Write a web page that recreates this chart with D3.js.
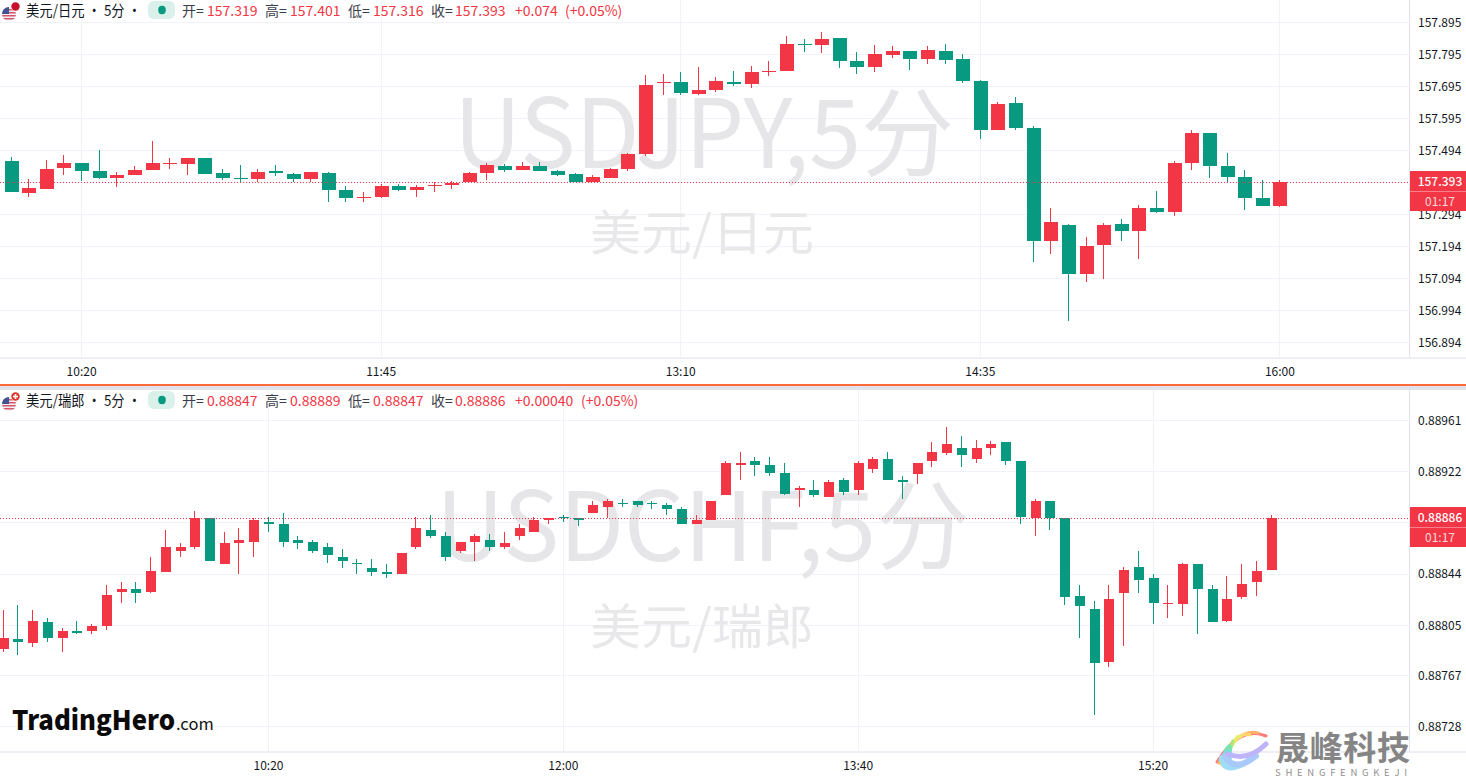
<!DOCTYPE html>
<html><head><meta charset="utf-8">
<script src="https://cdnjs.cloudflare.com/ajax/libs/d3/7.8.5/d3.min.js"></script>
<style>
html,body{margin:0;padding:0;background:#fff;overflow:hidden}
svg{display:block}
text{font-family:"Noto Sans CJK SC","Noto Sans",sans-serif}
</style></head><body>
<script>
// open, high, low, close
const jpyCandles = [
[157.461,157.474,157.362,157.362],[157.361,157.404,157.349,157.376],[157.373,157.464,157.373,157.436],[157.439,157.479,157.417,157.454],
[157.454,157.454,157.398,157.429],[157.429,157.495,157.404,157.408],[157.408,157.425,157.379,157.417],[157.417,157.445,157.417,157.433],
[157.433,157.523,157.433,157.454],[157.451,157.470,157.436,157.454],[157.451,157.470,157.417,157.470],[157.470,157.470,157.420,157.420],
[157.423,157.436,157.401,157.408],[157.408,157.448,157.395,157.404],[157.404,157.436,157.394,157.426],[157.429,157.448,157.414,157.423],
[157.420,157.423,157.395,157.404],[157.404,157.426,157.394,157.426],[157.423,157.426,157.333,157.370],[157.370,157.383,157.333,157.345],
[157.345,157.364,157.333,157.348],[157.348,157.388,157.345,157.383],[157.383,157.389,157.367,157.370],[157.370,157.385,157.348,157.379],
[157.383,157.395,157.364,157.386],[157.386,157.398,157.373,157.392],[157.395,157.426,157.394,157.423],[157.423,157.454,157.401,157.448],
[157.445,157.451,157.426,157.433],[157.433,157.458,157.433,157.445],[157.445,157.458,157.429,157.429],[157.429,157.433,157.414,157.417],
[157.420,157.423,157.395,157.395],[157.395,157.417,157.395,157.411],[157.408,157.439,157.408,157.436],[157.436,157.486,157.429,157.483],
[157.483,157.729,157.476,157.698],[157.704,157.733,157.667,157.708],[157.708,157.739,157.667,157.673],[157.670,157.754,157.667,157.683],
[157.682,157.723,157.676,157.711],[157.708,157.742,157.695,157.701],[157.701,157.758,157.689,157.739],[157.739,157.773,157.726,157.742],
[157.742,157.851,157.742,157.826],[157.826,157.842,157.801,157.823],[157.823,157.864,157.798,157.842],[157.845,157.845,157.751,157.773],
[157.773,157.801,157.733,157.754],[157.754,157.823,157.739,157.795],[157.792,157.820,157.783,157.804],[157.804,157.804,157.745,157.779],
[157.779,157.820,157.764,157.808],[157.804,157.826,157.764,157.776],[157.779,157.795,157.704,157.711],[157.711,157.714,157.529,157.558],
[157.558,157.645,157.558,157.639],[157.642,157.661,157.558,157.564],[157.564,157.570,157.145,157.211],[157.211,157.314,157.170,157.270],
[157.261,157.264,156.961,157.107],[157.107,157.223,157.082,157.195],[157.198,157.267,157.092,157.261],[157.264,157.279,157.211,157.242],
[157.242,157.323,157.154,157.314],[157.314,157.367,157.298,157.301],[157.301,157.461,157.289,157.454],[157.454,157.558,157.432,157.548],
[157.548,157.548,157.407,157.445],[157.445,157.486,157.393,157.411],[157.411,157.432,157.308,157.345],[157.345,157.401,157.320,157.320],
[157.319,157.401,157.316,157.393]];
const chfCandles = [
[0.88787,0.88816,0.88784,0.88795],[0.88794,0.88820,0.88782,0.88792],[0.88791,0.88816,0.88788,0.88808],[0.88807,0.88810,0.88792,0.88795],
[0.88795,0.88803,0.88784,0.88800],[0.88800,0.88808,0.88798,0.88799],[0.88800,0.88806,0.88798,0.88804],[0.88804,0.88835,0.88801,0.88828],
[0.88830,0.88838,0.88822,0.88832],[0.88832,0.88838,0.88822,0.88829],[0.88830,0.88857,0.88829,0.88846],[0.88845,0.88877,0.88845,0.88864],
[0.88861,0.88867,0.88857,0.88864],[0.88864,0.88892,0.88863,0.88886],[0.88886,0.88886,0.88854,0.88854],[0.88851,0.88876,0.88851,0.88867],
[0.88867,0.88879,0.88844,0.88870],[0.88868,0.88886,0.88857,0.88885],[0.88883,0.88887,0.88876,0.88882],[0.88882,0.88890,0.88864,0.88868],
[0.88870,0.88873,0.88863,0.88867],[0.88868,0.88870,0.88860,0.88861],[0.88864,0.88867,0.88852,0.88858],[0.88857,0.88863,0.88848,0.88854],
[0.88852,0.88855,0.88844,0.88851],[0.88848,0.88855,0.88842,0.88845],[0.88845,0.88851,0.88841,0.88844],[0.88844,0.88860,0.88844,0.88860],
[0.88864,0.88887,0.88863,0.88879],[0.88877,0.88889,0.88871,0.88873],[0.88873,0.88876,0.88854,0.88857],[0.88861,0.88868,0.88860,0.88868],
[0.88868,0.88874,0.88854,0.88873],[0.88870,0.88874,0.88861,0.88864],[0.88864,0.88876,0.88863,0.88867],[0.88873,0.88882,0.88870,0.88879],
[0.88876,0.88887,0.88876,0.88885],[0.88885,0.88886,0.88882,0.88886],[0.88887,0.88889,0.88883,0.88886],[0.88886,0.88886,0.88880,0.88885],
[0.88890,0.88899,0.88890,0.88896],[0.88895,0.88901,0.88886,0.88899],[0.88898,0.88901,0.88895,0.88897],[0.88899,0.88899,0.88895,0.88896],
[0.88898,0.88899,0.88893,0.88897],[0.88896,0.88898,0.88889,0.88893],[0.88893,0.88895,0.88882,0.88882],[0.88882,0.88889,0.88882,0.88885],
[0.88885,0.88899,0.88885,0.88899],[0.88904,0.88930,0.88904,0.88928],[0.88927,0.88937,0.88915,0.88928],[0.88930,0.88933,0.88918,0.88927],
[0.88927,0.88933,0.88918,0.88921],[0.88921,0.88928,0.88904,0.88905],[0.88908,0.88911,0.88895,0.88909],[0.88908,0.88915,0.88902,0.88904],
[0.88902,0.88915,0.88902,0.88914],[0.88915,0.88917,0.88904,0.88906],[0.88908,0.88930,0.88904,0.88928],[0.88924,0.88933,0.88921,0.88931],
[0.88931,0.88937,0.88915,0.88915],[0.88915,0.88918,0.88901,0.88914],[0.88920,0.88928,0.88912,0.88928],[0.88930,0.88944,0.88925,0.88937],
[0.88936,0.88956,0.88934,0.88943],[0.88940,0.88949,0.88925,0.88934],[0.88931,0.88946,0.88928,0.88940],[0.88940,0.88945,0.88934,0.88943],
[0.88944,0.88944,0.88927,0.88930],[0.88930,0.88930,0.88882,0.88887],[0.88886,0.88901,0.88873,0.88899],[0.88899,0.88899,0.88877,0.88886],
[0.88886,0.88886,0.88820,0.88826],[0.88827,0.88835,0.88795,0.88819],[0.88817,0.88823,0.88736,0.88776],[0.88777,0.88835,0.88773,0.88825],
[0.88829,0.88849,0.88789,0.88847],[0.88849,0.88861,0.88829,0.88839],[0.88841,0.88844,0.88806,0.88822],[0.88821,0.88835,0.88810,0.88822],
[0.88821,0.88852,0.88812,0.88851],[0.88851,0.88851,0.88798,0.88832],[0.88832,0.88835,0.88807,0.88807],[0.88808,0.88842,0.88807,0.88825],
[0.88826,0.88851,0.88825,0.88836],[0.88838,0.88854,0.88827,0.88846],[0.88847,0.88889,0.88847,0.88886]];

const jpyTicks = [157.895,157.795,157.695,157.595,157.494,157.394,157.294,157.194,157.094,156.994,156.894];
// the 157.394 and 0.88883 labels sit under the price badge in the reference, so they are left blank
const jpyTickLabels = ["157.895","157.795","157.695","157.595","157.494","","157.294","157.194","157.094","156.994","156.894"];
const chfTicks = [0.88961,0.88922,0.88883,0.88844,0.88805,0.88767,0.88728];
const chfTickLabels = ["0.88961","0.88922","","0.88844","0.88805","0.88767","0.88728"];
const jpyTimeIdx = [4,21,38,55,72];
const jpyTimes = ["10:20","11:45","13:10","14:35","16:00"];
const chfTimeIdx = [18,38,58,78];
const chfTimes = ["10:20","12:00","13:40","15:20"];

const UP="#f23645", DOWN="#089981", GRID="#f0f3fa", AXIS="#e0e3eb", INK="#131722";
const W=1466,H=778,AX=1409;
const LAT="Roboto,'Noto Sans CJK SC',sans-serif";
const svg=d3.select("body").append("svg").attr("width",W).attr("height",H).attr("viewBox",`0 0 ${W} ${H}`);
svg.append("rect").attr("width",W).attr("height",H).attr("fill","#fff");

function pane(cfg){
  const g=svg.append("g");
  const x=d3.scaleLinear().domain([0,cfg.data.length-1]).range(cfg.xr);
  const y=d3.scaleLinear().domain(cfg.yd).range(cfg.yr);
  const grid=g.append("g").attr("shape-rendering","crispEdges");
  grid.selectAll(".h").data(cfg.ticks).join("line").attr("x1",0).attr("x2",AX)
    .attr("y1",d=>Math.round(y(d))+.5).attr("y2",d=>Math.round(y(d))+.5).attr("stroke",GRID);
  grid.selectAll(".v").data(cfg.timeIdx).join("line").attr("y1",cfg.top).attr("y2",cfg.bottom)
    .attr("x1",d=>Math.round(x(d))+.5).attr("x2",d=>Math.round(x(d))+.5).attr("stroke",GRID);
  g.append("text").attr("x",cfg.wmX).attr("y",cfg.wmY).attr("font-size",cfg.wmSize).attr("text-anchor","middle")
    .attr("font-family","'Noto Sans','Noto Sans CJK SC',sans-serif").attr("textLength",cfg.wmLen).attr("lengthAdjust","spacingAndGlyphs")
    .attr("fill","#e6e6e9").text(cfg.wm);
  g.append("text").attr("x",cfg.wm2X).attr("y",cfg.wm2Y).attr("font-size",48).attr("text-anchor","middle")
    .attr("textLength",224).attr("lengthAdjust","spacingAndGlyphs")
    .attr("fill","#e8e8ea").text(cfg.wm2);
  const last=cfg.data[cfg.data.length-1];
  const c=g.append("g").attr("shape-rendering","crispEdges");
  const col=d=>d[3]>=d[0]?UP:DOWN;
  const cx=(d,i)=>Math.round(x(i))+.5;
  c.selectAll("line").data(cfg.data).join("line")
    .attr("x1",cx).attr("x2",cx).attr("y1",d=>Math.round(y(d[1]))).attr("y2",d=>Math.round(y(d[2])))
    .attr("stroke",col);
  c.selectAll("rect").data(cfg.data).join("rect")
    .attr("x",(d,i)=>Math.round(x(i))+.5-cfg.bw/2).attr("width",cfg.bw)
    .attr("y",d=>Math.round(y(Math.max(d[0],d[3]))))
    .attr("height",d=>Math.max(1,Math.round(y(Math.min(d[0],d[3])))-Math.round(y(Math.max(d[0],d[3])))))
    .attr("fill",col);
  g.append("line").attr("x1",0).attr("x2",AX).attr("y1",Math.round(y(last[3]))+.5).attr("y2",Math.round(y(last[3]))+.5)
    .attr("stroke",UP).attr("stroke-dasharray","1 2").attr("shape-rendering","crispEdges");
  const yAx=d3.axisRight(y).tickValues(cfg.ticks).tickSize(0).tickPadding(9)
    .tickFormat((d,i)=>cfg.tickLabels[i]);
  const ya=g.append("g").attr("transform",`translate(${AX},0)`).call(yAx);
  ya.select(".domain").remove();
  ya.selectAll("text").attr("fill",INK).attr("font-size",12).attr("font-family","Roboto,sans-serif").attr("dy","0.36em");
  const xAx=d3.axisBottom(x).tickValues(cfg.timeIdx).tickSize(0).tickPadding(0)
    .tickFormat((d,i)=>cfg.times[i]);
  const xa=g.append("g").attr("transform",`translate(0,${cfg.axisY})`).call(xAx);
  xa.select(".domain").remove();
  xa.selectAll("text").attr("fill",INK).attr("font-size",12).attr("font-family","Roboto,sans-serif").attr("y",0).attr("dy","0");
  g.append("line").attr("x1",AX+.5).attr("x2",AX+.5).attr("y1",cfg.top).attr("y2",cfg.bottom).attr("stroke",AXIS).attr("shape-rendering","crispEdges");
  g.append("rect").attr("x",0).attr("y",cfg.bottom-1).attr("width",W).attr("height",2).attr("fill","#eeeef4");
  const by=Math.round(y(last[3]))-11;
  g.append("rect").attr("x",AX+1).attr("y",by).attr("width",W-AX-1).attr("height",40).attr("fill",UP);
  g.append("rect").attr("x",AX+1).attr("y",by+20).attr("width",W-AX-1).attr("height",1).attr("fill","#f7808a");
  g.append("text").attr("x",AX+31).attr("y",by+15).attr("text-anchor","middle").attr("fill","#fff").attr("font-size",12)
    .attr("font-family","Roboto,sans-serif").attr("font-weight",500).text(cfg.priceLabel);
  g.append("text").attr("x",AX+31).attr("y",by+35).attr("text-anchor","middle").attr("fill","#fff").attr("fill-opacity",.82).attr("font-size",12)
    .attr("font-family","Roboto,sans-serif").text("01:17");
  const hy=cfg.top+16;
  g.append("text").attr("x",26).attr("y",hy).attr("fill",INK).attr("font-size",15).attr("font-family",LAT)
    .attr("textLength",115).attr("lengthAdjust","spacingAndGlyphs").attr("xml:space","preserve").text(cfg.name+" · 5分 ·");
  g.append("rect").attr("x",148).attr("y",cfg.top+1).attr("width",27).attr("height",18).attr("rx",6).attr("fill","#d9f0eb");
  g.append("ellipse").attr("cx",162).attr("cy",cfg.top+10).attr("rx",3.8).attr("ry",4.2).attr("fill",DOWN);
  cfg.legend.forEach(d=>{
    g.append("text").attr("x",d[0]).attr("y",hy).attr("font-size",14).attr("font-family",LAT)
      .attr("fill",d[2]?"#3a3e4a":UP).text(d[1]);
  });
  const fy=cfg.top+14;
  const clipId="f"+cfg.top;
  g.append("clipPath").attr("id",clipId).append("circle").attr("cx",9).attr("cy",fy).attr("r",7);
  const f=g.append("g").attr("clip-path",`url(#${clipId})`);
  f.append("rect").attr("x",2).attr("y",fy-7).attr("width",14).attr("height",14).attr("fill","#eef0f4");
  [-5,-2,1,4].forEach(o=>f.append("rect").attr("x",2).attr("y",fy+o).attr("width",14).attr("height",1.5).attr("fill","#d8556a"));
  f.append("rect").attr("x",2).attr("y",fy-7).attr("width",7).attr("height",7).attr("fill","#3f5490");
  g.append("circle").attr("cx",15.5).attr("cy",fy-7.5).attr("r",4.8).attr("fill","#fff");
  g.append("circle").attr("cx",15.5).attr("cy",fy-7.5).attr("r",4.2).attr("fill",cfg.flag2);
  if(cfg.cross){
    g.append("rect").attr("x",13).attr("y",fy-8.3).attr("width",5).attr("height",1.6).attr("fill","#fff");
    g.append("rect").attr("x",14.7).attr("y",fy-10).attr("width",1.6).attr("height",5).attr("fill","#fff");
  }
}

pane({data:jpyCandles,xr:[10.6,1279.4],yd:[157.895,156.894],yr:[22,342],bw:14,top:0,bottom:358,axisY:376,
  ticks:jpyTicks,tickLabels:jpyTickLabels,timeIdx:jpyTimeIdx,times:jpyTimes,priceLabel:"157.393",
  wm:"USDJPY,5分",wmX:704,wmY:168,wmSize:96,wmLen:500,wm2:"美元/日元",wm2X:702,wm2Y:250,name:"美元/日元",flag2:"#c8102e",
  legend:[[182,"开=",1],[207,"157.319"],[265,"高=",1],[290,"157.401"],[348,"低=",1],[373,"157.316"],[431,"收=",1],[455,"157.393"],[515,"+0.074"],[565,"(+0.05%)"]]});
pane({data:chfCandles,xr:[2.6,1270.5],yd:[0.88961,0.88728],yr:[420,726],bw:10,top:390,bottom:752,axisY:770,
  ticks:chfTicks,tickLabels:chfTickLabels,timeIdx:chfTimeIdx,times:chfTimes,priceLabel:"0.88886",
  wm:"USDCHF,5分",wmX:703,wmY:561,wmSize:96,wmLen:534,wm2:"美元/瑞郎",wm2X:702,wm2Y:644,name:"美元/瑞郎",flag2:"#e0352b",cross:true,
  legend:[[182,"开=",1],[207,"0.88847"],[265,"高=",1],[290,"0.88889"],[348,"低=",1],[373,"0.88847"],[431,"收=",1],[455,"0.88886"],[515,"+0.00040"],[581,"(+0.05%)"]]});

svg.append("rect").attr("x",0).attr("y",384).attr("width",W).attr("height",2).attr("fill","#ff6b3d");
svg.append("rect").attr("x",0).attr("y",386).attr("width",W).attr("height",4).attr("fill","#e0e3eb");

svg.append("text").attr("x",12).attr("y",730).attr("font-family","Lato,sans-serif").attr("font-weight",900).attr("font-size",27)
  .attr("textLength",163).attr("lengthAdjust","spacingAndGlyphs").attr("fill","#0a0a0a").text("TradingHero");
svg.append("text").attr("x",176).attr("y",730).attr("font-family","Roboto,sans-serif").attr("font-size",16.5)
  .attr("fill","#111").text(".com");

const swirl=svg.append("g").attr("fill","none").attr("stroke-linecap","round");
[["#ff7b7b",1266,736,3],["#ffb06a",1258,733,3],["#ffd76a",1250,735,3],["#e6ee70",1240,737,3],["#a8ea78",1232,743,3],["#78e6a8",1225,751,3],["#78dcd8",1220,760,3]]
 .forEach(([c,x,y,w],i)=>{
  swirl.append("path").attr("stroke",c).attr("stroke-width",w)
    .attr("d",`M${x} ${y} Q${1240-i} ${725+i*2} ${1217+i*2} ${762+i}`);
 });
[["#9fdcf5",1232,776,6],["#a9c9fb",1242,773,6],["#bdb4fa",1256,762,5]].forEach(([c,x,y,w],i)=>{
  swirl.append("path").attr("stroke",c).attr("stroke-width",w)
    .attr("d",`M${1222+i*3} ${758-i*2} Q${x-8} ${y} ${x+18-i*4} ${y-16-i}`);
});
svg.append("text").attr("x",1276).attr("y",760).attr("font-family","'Noto Sans CJK SC',sans-serif").attr("font-weight",700).attr("font-size",33)
  .attr("textLength",134).attr("lengthAdjust","spacing").attr("fill","#858585").text("晟峰科技");
svg.append("text").attr("x",1275).attr("y",776).attr("font-family","Roboto,sans-serif").attr("font-size",9.5)
  .attr("textLength",132).attr("lengthAdjust","spacing").attr("fill","#8f8f8f").text("SHENGFENGKEJI");
</script>
</body></html>
